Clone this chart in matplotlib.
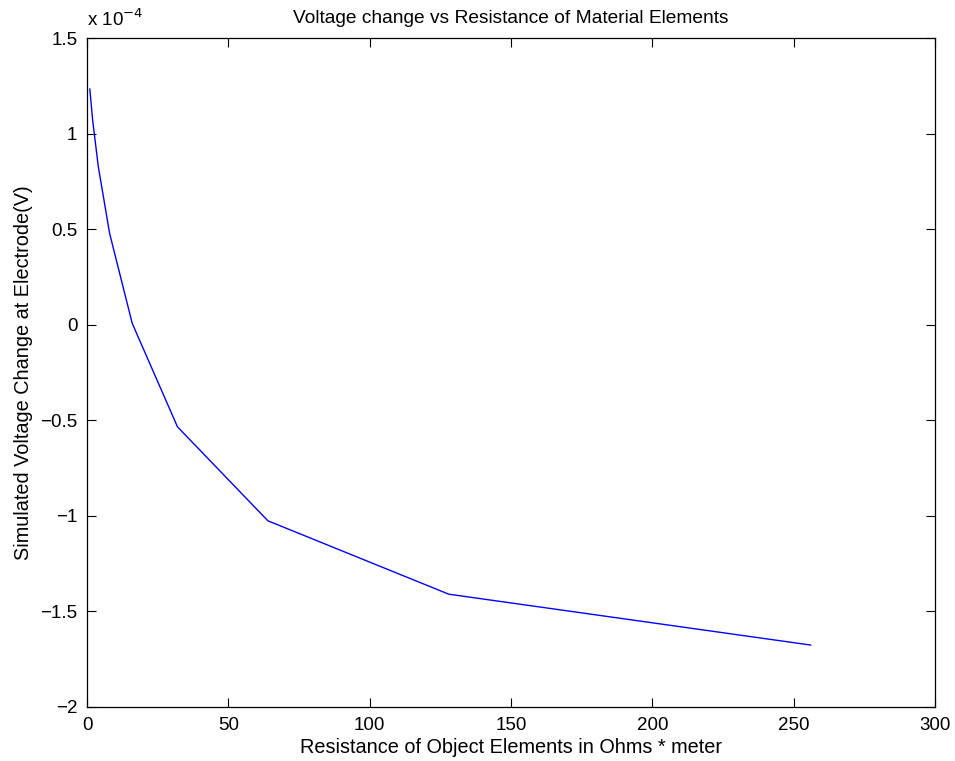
import matplotlib
matplotlib.use("Agg")
import matplotlib.pyplot as plt

# Resistance of object elements (Ohm*m) and simulated voltage change (x 1e-4 V)
resistance = [1, 2, 4, 8, 16, 32, 64, 128, 256]
voltage_e4 = [1.233, 1.07, 0.827, 0.478, 0.007, -0.534, -1.026, -1.41, -1.676]

x_ticks = [0, 50, 100, 150, 200, 250, 300]
y_ticks = [-2, -1.5, -1, -0.5, 0, 0.5, 1, 1.5]

plt.rcParams['font.family'] = ['Liberation Sans', 'DejaVu Sans']
plt.rcParams['font.size'] = 13.5

fig = plt.figure(figsize=(9.55, 7.61), dpi=100)
ax = fig.add_axes([0.0911, 0.0710, 0.8880, 0.8790])

ax.plot(resistance, voltage_e4, color='#0000ff', linewidth=1.0)

ax.set_xlim(0, 300)
ax.set_ylim(-2, 1.5)
ax.set_xticks(x_ticks)
ax.set_yticks(y_ticks)
ax.set_xticklabels([str(t) for t in x_ticks])
ax.set_yticklabels(['\u22122', '\u22121.5', '\u22121', '\u22120.5', '0', '0.5', '1', '1.5'])
ax.tick_params(direction='in', length=6.5, width=0.8, top=True, right=True, pad=7)
for s in ax.spines.values():
    s.set_linewidth(0.9)

ax.set_title('Voltage change vs Resistance of Material Elements', fontsize=13.8, pad=11)
ax.set_xlabel('Resistance of Object Elements in Ohms * meter', fontsize=14.3, labelpad=3)
ax.set_ylabel('Simulated Voltage Change at Electrode(V)', fontsize=14.3, labelpad=5)
ax.text(0.0, 1.012, r'x 10$^{-4}$', transform=ax.transAxes, ha='left', va='bottom',
        fontsize=13.5)

fig.savefig('out.png', dpi=100)
